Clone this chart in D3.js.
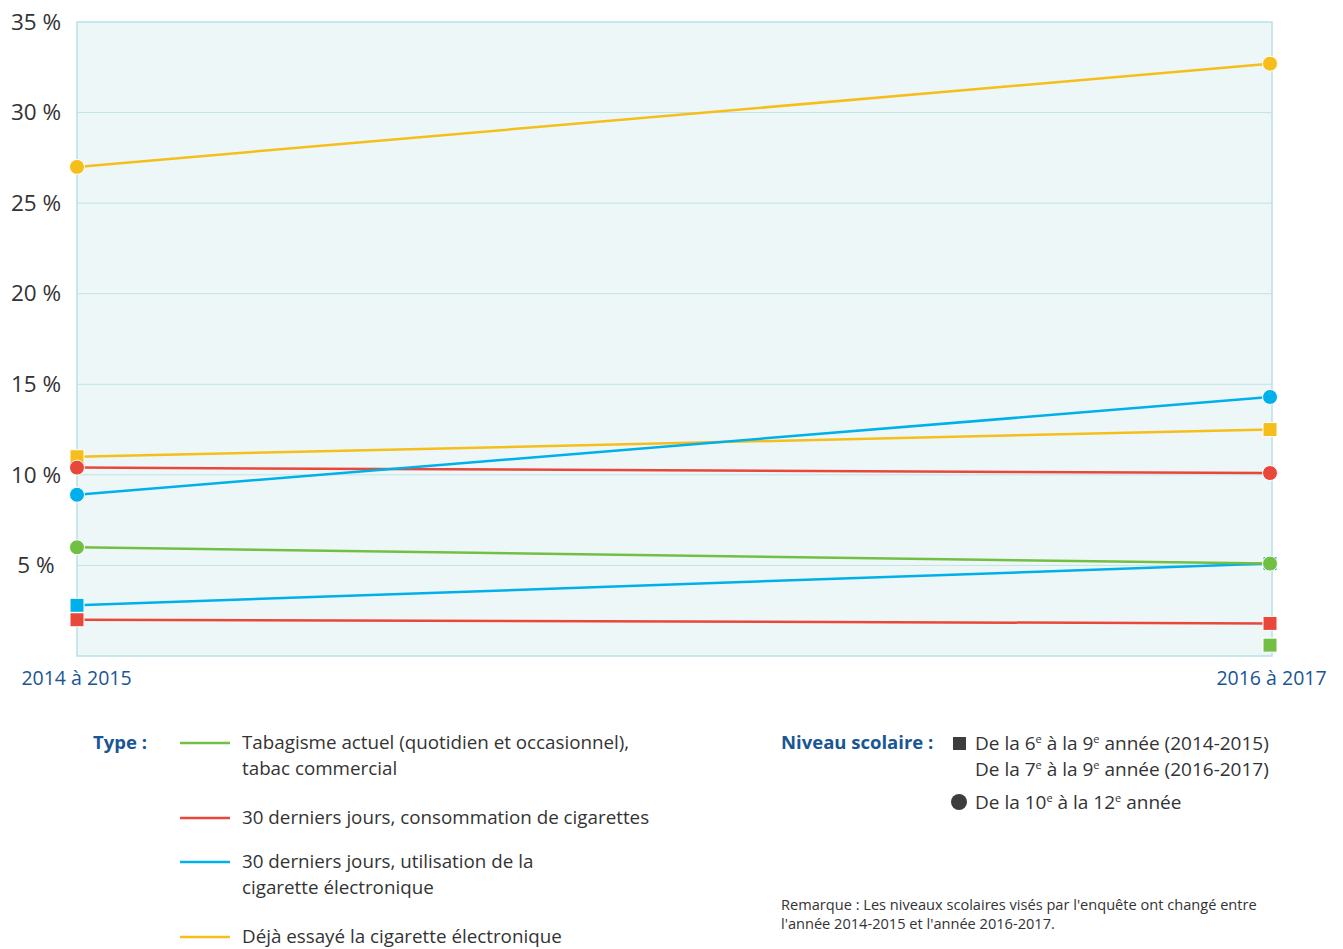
<!DOCTYPE html>
<html><head><meta charset="utf-8">
<script src="https://cdn.jsdelivr.net/npm/d3@7"></script>
<style>
body{margin:0;background:#fff;}
svg text{font-family:"Open Sans",sans-serif;}
</style></head>
<body><svg id="c" width="1343" height="949"></svg>
<script>
const periods = ["2014 à 2015", "2016 à 2017"];
const yTicks = [5, 10, 15, 20, 25, 30, 35];
const seriesNames = ["Tabagisme actuel (quotidien et occasionnel), tabac commercial",
  "30 derniers jours, consommation de cigarettes",
  "30 derniers jours, utilisation de la cigarette électronique",
  "Déjà essayé la cigarette électronique"];
const seriesColors = ["#72bf44", "#e8473a", "#00b0eb", "#f6be1a"];
// values by grade level: square = 6e/7e à 9e, circle = 10e à 12e
const squareValues = [[null, 0.6], [2.0, 1.8], [2.8, 5.1], [11.0, 12.5]];
const circleValues = [[6.0, 5.1], [10.4, 10.1], [8.9, 14.3], [27.0, 32.7]];

const svg = d3.select("#c");
const L = 77, R = 1272, T = 22, B = 656;
const x = d3.scalePoint().domain(periods).range([L, 1270]);
const y = d3.scaleLinear().domain([0, 35]).range([B, T]);

svg.append("rect").attr("x", L).attr("y", T).attr("width", R - L).attr("height", B - T)
  .attr("fill", "#eef7f8").attr("stroke", "#b8e1e5").attr("stroke-width", 1.5);
svg.append("g").selectAll("line").data(yTicks.filter(d => d < 35)).join("line")
  .attr("x1", L).attr("x2", R).attr("y1", d => y(d)).attr("y2", d => y(d))
  .attr("stroke", "#bfe3e6").attr("stroke-width", 1);

const yAxis = d3.axisLeft(y).tickValues(yTicks).tickSize(0).tickFormat(d => d + " %");
const ya = svg.append("g").attr("transform", "translate(36,0)").call(yAxis);
ya.select(".domain").remove();
ya.selectAll("text").attr("x", 0).attr("text-anchor", "middle").attr("dy", "0.32em")
  .attr("font-size", 22.5).attr("fill", "#333").style("font-family", "Open Sans");

const xAxis = d3.axisBottom(x).tickSize(0);
const xa = svg.append("g").attr("transform", `translate(0,${B})`).call(xAxis);
xa.select(".domain").remove();
xa.selectAll("text").attr("y", 23).attr("dy", "0.32em").attr("font-size", 19.5)
  .attr("fill", "#1a5694").style("font-family", "Open Sans");
xa.selectAll(".tick").filter(d => d === periods[0]).select("text").attr("dx", -1);
xa.selectAll(".tick").filter(d => d === periods[1]).select("text").attr("dx", 1);

const line = d3.line().defined(d => d.v != null).x(d => x(d.p)).y(d => y(d.v));
function toPts(arr) { return arr.map((v, i) => ({ p: periods[i], v })); }

const order = [3, 1, 2, 0];
order.forEach(k => {
  [squareValues[k], circleValues[k]].forEach(vals => {
    const pts = toPts(vals);
    if (pts.filter(d => d.v != null).length > 1)
      svg.append("path").datum(pts).attr("d", line).attr("fill", "none")
        .attr("stroke", seriesColors[k]).attr("stroke-width", 2.5);
  });
});
order.forEach(k => {
  const sq = toPts(squareValues[k]).filter(d => d.v != null);
  svg.append("g").selectAll("rect").data(sq).join("rect")
    .attr("x", d => x(d.p) - 7).attr("y", d => y(d.v) - 7).attr("width", 14).attr("height", 14)
    .attr("fill", seriesColors[k]).attr("stroke", "#fff").attr("stroke-width", 1);
});
order.forEach(k => {
  const ci = toPts(circleValues[k]).filter(d => d.v != null);
  svg.append("g").selectAll("circle").data(ci).join("circle")
    .attr("cx", d => x(d.p)).attr("cy", d => y(d.v)).attr("r", 7.5)
    .attr("fill", seriesColors[k]).attr("stroke", "#fff").attr("stroke-width", 1);
});

// Legend: Type
const legLines = [["Tabagisme actuel (quotidien et occasionnel),", "tabac commercial"],
  ["30 derniers jours, consommation de cigarettes"],
  ["30 derniers jours, utilisation de la", "cigarette électronique"],
  ["Déjà essayé la cigarette électronique"]];
const legY = [743, 818, 862, 937];
svg.append("text").attr("x", 93).attr("y", legY[0]).attr("dy", "0.35em").attr("font-size", 18.5)
  .attr("font-weight", "bold").attr("fill", "#1a5694").text("Type :");
legLines.forEach((ls, i) => {
  svg.append("line").attr("x1", 180).attr("x2", 230).attr("y1", legY[i]).attr("y2", legY[i])
    .attr("stroke", seriesColors[i]).attr("stroke-width", 2.5);
  ls.forEach((t, j) => svg.append("text").attr("x", 242).attr("y", legY[i] + j * 26).attr("dy", "0.33em")
    .attr("font-size", 18.8).attr("fill", "#333").text(t));
});

// Legend: Niveau scolaire
svg.append("text").attr("x", 781).attr("y", 743).attr("dy", "0.35em").attr("font-size", 18.5)
  .attr("font-weight", "bold").attr("fill", "#1a5694").text("Niveau scolaire :");
svg.append("rect").attr("x", 953).attr("y", 737).attr("width", 13).attr("height", 13).attr("fill", "#3d3d3d");
svg.append("circle").attr("cx", 959).attr("cy", 802).attr("r", 8).attr("fill", "#3d3d3d");
function supText(xp, yp, parts) {
  const t = svg.append("text").attr("x", xp).attr("y", yp + 6.5).attr("font-size", 19).attr("fill", "#333");
  let up = false;
  parts.forEach(p => {
    if (p.startsWith("^")) {
      t.append("tspan").attr("font-size", 11).attr("dy", -7).text(p.slice(1));
      up = true;
    } else {
      const s = t.append("tspan").text(p);
      if (up) { s.attr("dy", 7); up = false; }
    }
  });
  return t;
}
supText(975, 743, ["De la 6", "^e", " à la 9", "^e", " année (2014-2015)"]);
supText(975, 769, ["De la 7", "^e", " à la 9", "^e", " année (2016-2017)"]);
supText(975, 802, ["De la 10", "^e", " à la 12", "^e", " année"]);

svg.append("text").attr("x", 781).attr("y", 905).attr("dy", "0.35em").attr("font-size", 14.6).attr("fill", "#333")
  .text("Remarque : Les niveaux scolaires visés par l'enquête ont changé entre");
svg.append("text").attr("x", 781).attr("y", 924).attr("dy", "0.35em").attr("font-size", 14.6).attr("fill", "#333")
  .text("l'année 2014-2015 et l'année 2016-2017.");
</script></body></html>
